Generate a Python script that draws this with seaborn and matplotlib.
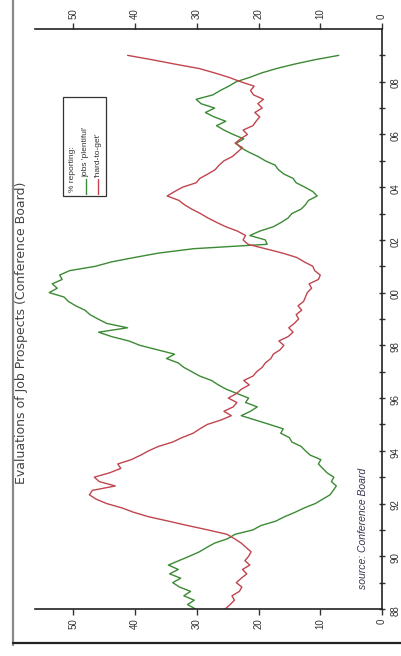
import numpy as np
import pandas as pd
import matplotlib
matplotlib.use("Agg")
import matplotlib.pyplot as plt
import seaborn as sns
from matplotlib.lines import Line2D
from matplotlib.patches import Rectangle

# Readings every two months, Jan 1988 .. Jan 2009 (percent of respondents)
periods = pd.date_range("1988-01-01", "2009-01-01", freq="2MS")

jobs_plentiful = [
    30.2, 31.5, 30.4, 32.1, 31.0, 32.8,
    33.9, 32.6, 34.4, 33.0, 34.6, 32.9,
    31.2, 29.6, 28.4, 27.1, 25.0, 23.8,
    20.9, 19.6, 17.2, 15.8, 14.1, 12.6,
    10.8, 9.6, 8.4, 7.9, 7.4, 8.2,
    7.8, 8.9, 9.6, 10.3, 9.9, 11.6,
    12.4, 13.1, 14.6, 15.0, 16.4, 16.0,
    18.2, 20.5, 22.8, 21.3, 20.2, 22.1,
    21.6, 23.4, 25.2, 26.5, 27.6, 29.5,
    30.8, 32.1, 33.0, 34.9, 33.6, 36.4,
    39.2, 41.0, 43.8, 45.9, 41.2, 44.6,
    46.0, 47.3, 48.1, 49.6, 50.8, 51.5,
    53.9, 52.6, 53.4, 51.8, 52.2, 50.6,
    46.4, 43.8, 40.1, 36.2, 30.5, 18.6,
    18.9, 21.4, 19.8, 17.6, 16.3, 15.2,
    14.6, 13.1, 12.4, 11.9, 10.5, 11.2,
    12.5, 13.9, 14.4, 15.9, 16.8, 17.3,
    18.9, 20.1, 21.6, 22.9, 23.6, 22.4,
    24.1, 25.6, 26.8, 25.3, 27.2, 28.6,
    27.1, 29.3, 30.1, 27.4, 26.2, 24.8,
    23.6, 21.4, 19.5, 17.1, 14.2, 10.9,
    7.0,
]

hard_to_get = [
    25.4, 24.6, 23.9, 24.3, 23.1, 22.7,
    23.6, 22.8, 21.9, 22.6, 21.4, 22.2,
    21.6, 21.2, 22.0, 22.8, 23.9, 25.1,
    28.2, 31.5, 34.6, 37.8, 40.2, 42.1,
    44.6, 46.3, 47.4, 46.9, 43.2, 45.8,
    46.6, 44.1, 42.3, 42.8, 40.6, 39.1,
    37.8, 36.2, 33.9, 32.4, 30.6, 29.5,
    28.3, 26.1, 24.4, 25.6, 24.1, 23.5,
    24.9, 23.6, 22.8, 21.5, 22.4, 20.9,
    20.3, 19.4, 18.9, 18.0, 17.6, 16.5,
    15.9, 16.7, 15.2, 14.4, 15.1, 14.2,
    13.5, 13.9, 13.0, 13.6, 12.7, 12.4,
    12.1, 11.4, 11.8, 10.3, 10.0, 10.9,
    11.2, 12.6, 13.8, 16.1, 18.9, 21.7,
    22.5, 22.1, 23.4, 25.3, 26.8, 28.2,
    29.4, 30.8, 32.0, 32.9, 34.8, 33.6,
    32.3, 30.1, 29.5, 28.2, 27.0, 26.4,
    25.6, 24.2, 23.4, 22.6, 23.8, 22.9,
    21.8, 22.5, 20.9, 20.4, 19.8, 20.6,
    19.4, 20.1, 19.2, 20.8, 21.3, 20.7,
    22.9, 24.8, 27.1, 29.6, 33.5, 37.2,
    41.2,
]

year_ticks = [1988, 1990, 1992, 1994, 1996, 1998, 2000, 2002, 2004, 2006, 2008]
year_labels = ["88", "90", "92", "94", "96", "98", "00", "02", "04", "06", "08"]
value_ticks = [0, 10, 20, 30, 40, 50]

GREEN = "#3b8a34"
RED = "#c0454e"

# long format for seaborn
t = periods.year + (periods.month - 1) / 12
df = pd.concat([
    pd.DataFrame({"year": t, "value": jobs_plentiful, "series": "plentiful"}),
    pd.DataFrame({"year": t, "value": hard_to_get, "series": "hard"}),
])

sns.set_theme(style="white")
plt.rcParams["font.family"] = ["Liberation Sans", "DejaVu Sans"]

W, H = 401, 656
fig = plt.figure(figsize=(W / 100, H / 100), dpi=100)
ax = fig.add_axes([35 / W, 47 / H, 347 / W, 580 / H])

# chart is turned on its side: time runs bottom->top, percent runs right->left
sns.lineplot(data=df, x="value", y="year", hue="series",
             palette={"plentiful": GREEN, "hard": RED},
             sort=False, estimator=None, linewidth=1.0, legend=False, ax=ax)

ax.set_xlim(56.2, 0)
ax.set_ylim(1988, 2010)
ax.set_xlabel("")
ax.set_ylabel("")

for side in ["top", "bottom", "right"]:
    ax.spines[side].set_color("#222222")
    ax.spines[side].set_linewidth(1.2)
ax.spines["left"].set_visible(False)

ax.set_xticks(value_ticks)
ax.set_xticklabels([str(v) for v in value_ticks])
ax.tick_params(axis="x", top=True, labeltop=True, bottom=True, labelbottom=True,
               direction="out", length=4, width=1, pad=3, labelsize=7,
               labelrotation=90, colors="#333333")

ax.yaxis.tick_right()
ax.set_yticks(year_ticks)
ax.set_yticklabels(year_labels)
ax.set_yticks(range(1989, 2010, 2), minor=True)
ax.tick_params(axis="y", which="both", right=True, left=False, direction="inout",
               length=4, width=1, pad=4, labelsize=7, labelrotation=90,
               colors="#333333")

# outer frame of the scanned figure
fig.add_artist(Line2D([13 / W, 13 / W], [1 - 645 / H, 1.0], transform=fig.transFigure,
                      color="#888888", lw=1.6))
fig.add_artist(Line2D([13 / W, 1.0], [1 - 643 / H, 1 - 643 / H], transform=fig.transFigure,
                      color="#222222", lw=1.6))

fig.text(22 / W, 1 - 333 / H, "Evaluations of Job Prospects (Conference Board)",
         rotation=90, ha="center", va="center", fontsize=9, color="#444444",
         family=["DejaVu Sans"])

# legend drawn by hand (rotated)
fig.add_artist(Rectangle((63 / W, 1 - 196 / H), 43 / W, 99 / H, fill=False,
                         lw=0.9, edgecolor="#333333", transform=fig.transFigure))
fig.text(73 / W, 1 - 192 / H, "% reporting:", rotation=90, ha="center", va="bottom",
         fontsize=6, color="#333333")
fig.text(86 / W, 1 - 177 / H, "jobs 'plentiful'", rotation=90, ha="center", va="bottom",
         fontsize=6, color="#333333")
fig.text(98 / W, 1 - 177 / H, "'hard-to-get'", rotation=90, ha="center", va="bottom",
         fontsize=6, color="#333333")
fig.add_artist(Line2D([86 / W, 86 / W], [1 - 194 / H, 1 - 179 / H], transform=fig.transFigure,
                      color=GREEN, lw=1.0))
fig.add_artist(Line2D([98 / W, 98 / W], [1 - 194 / H, 1 - 179 / H], transform=fig.transFigure,
                      color=RED, lw=1.0))

fig.text(363 / W, 1 - 528 / H, "source: Conference Board", rotation=90, ha="center",
         va="center", fontsize=7.5, style="italic", color="#3b3350")

fig.savefig("out.png", dpi=100)
